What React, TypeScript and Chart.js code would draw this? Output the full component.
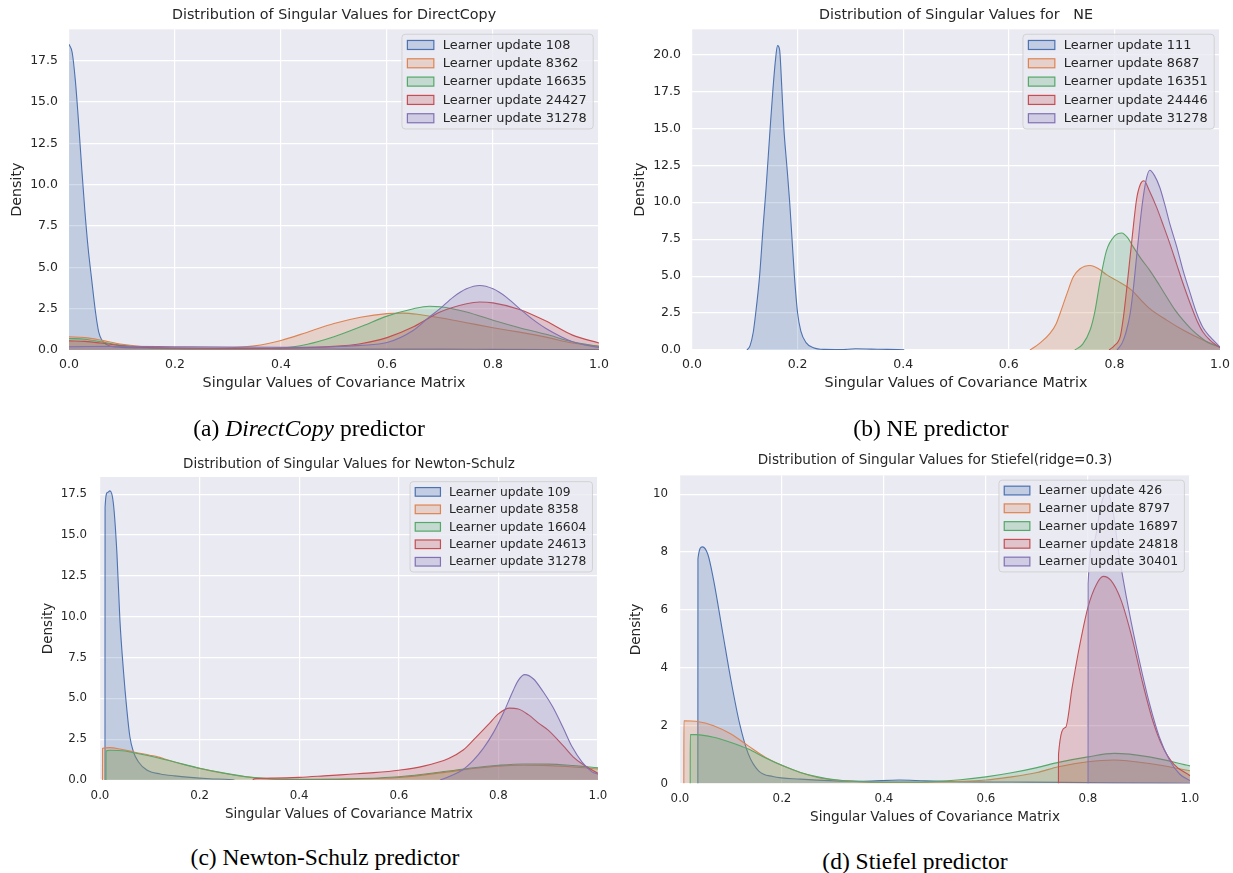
import React, { useEffect, useRef } from "react";
import { Chart, registerables } from "chart.js";

Chart.register(...registerables);

type Pt = [number, number];

const FONT = '"DejaVu Sans", "Noto Sans", sans-serif';
const TEXT = "#262626";
const PALETTE = ["#4C72B0", "#DD8452", "#55A868", "#C44E52", "#8172B3"];

// ---------- tick labels ----------
const xTicks = [0, 0.2, 0.4, 0.6, 0.8, 1.0];
const yTicksA = [0, 2.5, 5, 7.5, 10, 12.5, 15, 17.5];
const yTicksB = [0, 2.5, 5, 7.5, 10, 12.5, 15, 17.5, 20];
const yTicksC = [0, 2.5, 5, 7.5, 10, 12.5, 15, 17.5];
const yTicksD = [0, 2, 4, 6, 8, 10];

// ---------- legend entries (learner updates) ----------
const directCopyUpdates = [108, 8362, 16635, 24427, 31278];
const neUpdates = [111, 8687, 16351, 24446, 31278];
const newtonUpdates = [109, 8358, 16604, 24613, 31278];
const stiefelUpdates = [426, 8797, 16897, 24818, 30401];

// ---------- (a) DirectCopy densities [x, density] ----------
const dc108: Pt[] = [[0, 18.5], [0.006, 18.0], [0.012, 16.3], [0.018, 13.8], [0.024, 11.0], [0.03, 8.4], [0.036, 6.2], [0.043, 4.2], [0.05, 2.3], [0.056, 1.1], [0.062, 0.6], [0.07, 0.35], [0.08, 0.22], [0.1, 0.16], [0.15, 0.12], [0.2, 0.1], [0.3, 0.08], [0.4, 0.07], [0.5, 0.06], [0.6, 0.05], [0.7, 0.05], [0.8, 0.04], [0.9, 0.03], [1, 0.02]];
const dc8362: Pt[] = [[0, 0.8], [0.03, 0.75], [0.06, 0.6], [0.1, 0.35], [0.15, 0.18], [0.2, 0.12], [0.25, 0.1], [0.3, 0.13], [0.35, 0.25], [0.4, 0.58], [0.45, 1.08], [0.5, 1.6], [0.55, 1.98], [0.6, 2.2], [0.63, 2.23], [0.66, 2.15], [0.7, 1.95], [0.75, 1.65], [0.8, 1.35], [0.85, 1.08], [0.9, 0.78], [0.95, 0.42], [1, 0.22]];
const dc16635: Pt[] = [[0, 0.7], [0.03, 0.65], [0.06, 0.5], [0.1, 0.28], [0.15, 0.13], [0.2, 0.08], [0.3, 0.06], [0.4, 0.12], [0.45, 0.35], [0.5, 0.8], [0.55, 1.4], [0.6, 2.05], [0.65, 2.5], [0.68, 2.65], [0.7, 2.62], [0.75, 2.3], [0.8, 1.8], [0.85, 1.35], [0.9, 0.95], [0.95, 0.5], [1, 0.22]];
const dc24427: Pt[] = [[0, 0.55], [0.03, 0.52], [0.06, 0.42], [0.1, 0.25], [0.15, 0.15], [0.2, 0.12], [0.3, 0.1], [0.4, 0.12], [0.5, 0.22], [0.55, 0.38], [0.6, 0.75], [0.65, 1.4], [0.68, 1.95], [0.7, 2.3], [0.75, 2.8], [0.775, 2.9], [0.8, 2.85], [0.85, 2.45], [0.9, 1.75], [0.95, 0.9], [1, 0.42]];
const dc31278: Pt[] = [[0, 0.2], [0.1, 0.22], [0.2, 0.2], [0.3, 0.18], [0.4, 0.17], [0.5, 0.2], [0.55, 0.28], [0.6, 0.45], [0.65, 1.2], [0.68, 2.0], [0.7, 2.5], [0.725, 3.2], [0.75, 3.7], [0.775, 3.9], [0.8, 3.7], [0.825, 3.2], [0.85, 2.5], [0.875, 1.85], [0.9, 1.3], [0.95, 0.5], [1, 0.15]];

// ---------- (b) NE densities ----------
const ne111: Pt[] = [[0.104, 0], [0.11, 0.3], [0.116, 1.2], [0.12, 2.3], [0.128, 5], [0.135, 8.5], [0.14, 10.8], [0.148, 15], [0.153, 17.5], [0.158, 19.6], [0.162, 20.6], [0.166, 20.3], [0.17, 17.8], [0.174, 15], [0.18, 12.3], [0.185, 10], [0.19, 7.2], [0.194, 5], [0.2, 2.5], [0.206, 1.3], [0.216, 0.5], [0.23, 0.15], [0.25, 0.04], [0.28, 0.03], [0.31, 0.08], [0.34, 0.06], [0.37, 0.04], [0.402, 0.02]];
const ne8687: Pt[] = [[0.64, 0], [0.646, 0.13], [0.66, 0.5], [0.678, 1.12], [0.69, 1.8], [0.697, 2.47], [0.71, 3.8], [0.722, 4.94], [0.735, 5.5], [0.754, 5.72], [0.77, 5.5], [0.785, 5.1], [0.804, 4.71], [0.833, 4.04], [0.85, 3.4], [0.867, 2.8], [0.899, 2.02], [0.93, 1.35], [0.968, 0.67], [1, 0.22]];
const ne16351: Pt[] = [[0.725, 0], [0.74, 0.4], [0.754, 1.35], [0.763, 2.6], [0.773, 4.7], [0.785, 6.73], [0.8, 7.7], [0.814, 7.92], [0.825, 7.6], [0.836, 6.96], [0.85, 6.2], [0.867, 5.39], [0.885, 4.4], [0.899, 3.59], [0.915, 2.7], [0.93, 2.02], [0.946, 1.4], [0.962, 0.9], [0.98, 0.45], [1, 0.2]];
const ne24446: Pt[] = [[0.79, 0], [0.8, 0.3], [0.811, 0.9], [0.817, 2.2], [0.823, 4.04], [0.833, 7.4], [0.842, 10.2], [0.849, 11.2], [0.856, 11.45], [0.866, 10.8], [0.88, 9.65], [0.893, 8.4], [0.905, 7.2], [0.918, 5.8], [0.93, 4.5], [0.943, 3.2], [0.956, 2.02], [0.968, 1.2], [0.981, 0.67], [1, 0.15]];
const ne31278: Pt[] = [[0.805, 0], [0.815, 0.5], [0.822, 1.2], [0.83, 2.5], [0.836, 4.2], [0.842, 6.3], [0.852, 9.65], [0.86, 11.5], [0.867, 12.17], [0.876, 11.8], [0.886, 11.0], [0.895, 9.9], [0.905, 8.53], [0.918, 7.0], [0.93, 5.39], [0.943, 3.9], [0.956, 2.47], [0.968, 1.5], [0.981, 0.9], [1, 0.2]];

// ---------- (c) Newton-Schulz densities ----------
const ns109: Pt[] = [[0.01, 0], [0.0102, 16.7], [0.015, 17.6], [0.02, 17.7], [0.027, 16.9], [0.034, 13.86], [0.04, 9.78], [0.047, 6.72], [0.054, 4.28], [0.06, 2.65], [0.067, 1.73], [0.077, 1.12], [0.094, 0.61], [0.121, 0.37], [0.15, 0.25], [0.181, 0.16], [0.22, 0.08], [0.26, 0.03], [0.27, 0]];
const ns8358: Pt[] = [[0.005, 0], [0.0052, 1.94], [0.02, 1.98], [0.04, 1.9], [0.07, 1.7], [0.1, 1.52], [0.114, 1.43], [0.148, 1.12], [0.2, 0.71], [0.248, 0.41], [0.302, 0.16], [0.342, 0.06], [0.4, 0.03], [0.5, 0.05], [0.6, 0.15], [0.7, 0.5], [0.75, 0.7], [0.8, 0.85], [0.85, 0.9], [0.9, 0.88], [0.95, 0.8], [1, 0.68]];
const ns16604: Pt[] = [[0.012, 0], [0.0122, 1.77], [0.02, 1.82], [0.05, 1.78], [0.07, 1.65], [0.1, 1.47], [0.15, 1.1], [0.2, 0.72], [0.25, 0.42], [0.3, 0.18], [0.35, 0.07], [0.4, 0.04], [0.5, 0.07], [0.6, 0.2], [0.7, 0.55], [0.75, 0.75], [0.8, 0.9], [0.85, 0.98], [0.9, 0.97], [0.95, 0.88], [1, 0.75]];
const ns24613: Pt[] = [[0.307, 0], [0.31, 0.08], [0.35, 0.12], [0.4, 0.16], [0.45, 0.25], [0.5, 0.35], [0.55, 0.45], [0.6, 0.6], [0.65, 0.85], [0.7, 1.32], [0.73, 1.85], [0.75, 2.45], [0.78, 3.4], [0.8, 4.05], [0.822, 4.4], [0.84, 4.35], [0.86, 4.0], [0.88, 3.5], [0.9, 3.05], [0.93, 2.1], [0.95, 1.42], [0.97, 0.95], [1, 0.41]];
const ns31278: Pt[] = [[0.683, 0], [0.7, 0.2], [0.727, 0.6], [0.75, 1.22], [0.77, 1.95], [0.79, 2.9], [0.81, 4.1], [0.83, 5.5], [0.84, 6.1], [0.853, 6.45], [0.87, 6.2], [0.89, 5.4], [0.909, 4.48], [0.93, 3.2], [0.948, 2.03], [0.968, 1.1], [0.988, 0.5], [1, 0.35]];

// ---------- (d) Stiefel densities ----------
const st426: Pt[] = [[0.035, 0], [0.0352, 7.77], [0.044, 8.18], [0.055, 7.9], [0.066, 7.02], [0.083, 5.29], [0.1, 3.56], [0.117, 2.06], [0.134, 1.02], [0.154, 0.44], [0.182, 0.24], [0.236, 0.15], [0.305, 0.09], [0.36, 0.08], [0.43, 0.12], [0.48, 0.09], [0.55, 0.06], [0.65, 0.05], [0.75, 0.04], [0.85, 0.02], [1, 0.01]];
const st8797: Pt[] = [[0.0075, 0], [0.0077, 2.17], [0.031, 2.15], [0.066, 2.0], [0.1, 1.71], [0.134, 1.3], [0.168, 0.9], [0.202, 0.61], [0.236, 0.38], [0.27, 0.21], [0.305, 0.12], [0.35, 0.06], [0.4, 0.04], [0.5, 0.05], [0.6, 0.12], [0.646, 0.22], [0.7, 0.38], [0.742, 0.58], [0.8, 0.75], [0.851, 0.81], [0.92, 0.69], [1, 0.44]];
const st16897: Pt[] = [[0.02, 0], [0.0202, 1.69], [0.031, 1.69], [0.066, 1.6], [0.1, 1.42], [0.134, 1.19], [0.168, 0.88], [0.202, 0.61], [0.236, 0.38], [0.27, 0.23], [0.305, 0.13], [0.35, 0.07], [0.4, 0.05], [0.45, 0.05], [0.5, 0.07], [0.55, 0.13], [0.6, 0.23], [0.65, 0.37], [0.7, 0.55], [0.742, 0.73], [0.8, 0.92], [0.851, 1.04], [0.92, 0.92], [1, 0.61]];
const st24818: Pt[] = [[0.742, 0], [0.7422, 1.02], [0.756, 1.94], [0.769, 3.33], [0.783, 4.71], [0.8, 6.1], [0.817, 6.9], [0.83, 7.16], [0.845, 7.02], [0.865, 6.33], [0.886, 5.06], [0.906, 3.56], [0.927, 2.17], [0.947, 1.25], [0.968, 0.67], [1, 0.27]];
const st30401: Pt[] = [[0.8, 0], [0.8002, 6.9], [0.812, 8.4], [0.825, 9.6], [0.837, 10.1], [0.85, 9.3], [0.86, 8.0], [0.88, 6.0], [0.9, 4.3], [0.92, 2.8], [0.94, 1.6], [0.96, 0.8], [0.98, 0.32], [1, 0.1]];

// ---------- helpers ----------
function rgba(hex: string, a: number) {
  const n = parseInt(hex.slice(1), 16);
  return `rgba(${(n >> 16) & 255},${(n >> 8) & 255},${n & 255},${a})`;
}

const plotBg = {
  id: "plotBg",
  beforeDraw(chart: any) {
    const { ctx, chartArea: a } = chart;
    ctx.save();
    ctx.fillStyle = "#EAEAF2";
    ctx.fillRect(a.left, a.top, a.right - a.left, a.bottom - a.top);
    ctx.restore();
  },
};

const mplLegend = {
  id: "mplLegend",
  afterDraw(chart: any, _args: any, opts: any) {
    const { ctx, chartArea: a } = chart;
    const fs = opts.fontSize;
    ctx.save();
    ctx.font = `${fs}px ${FONT}`;
    const items = chart.data.datasets.map((d: any) => ({ label: d.label, stroke: d.borderColor, fill: d.backgroundColor }));
    const tw = Math.max(...items.map((it: any) => ctx.measureText(it.label).width));
    const padL = 0.42 * fs, handleW = 2.05 * fs, handleH = 0.7 * fs, gap = 0.7 * fs, padR = 0.5 * fs;
    const rowH = 1.42 * fs, padY = 0.12 * fs;
    const w = padL + handleW + gap + tw + padR;
    const h = rowH * items.length + 2 * padY;
    const x = a.right - 0.45 * fs - w;
    const y = a.top + 0.38 * fs;
    ctx.beginPath();
    ctx.roundRect(x, y, w, h, 0.25 * fs);
    ctx.fillStyle = "rgba(234,234,242,0.8)";
    ctx.fill();
    ctx.strokeStyle = "rgba(204,204,204,0.8)";
    ctx.lineWidth = 1;
    ctx.stroke();
    items.forEach((it: any, i: number) => {
      const cy = y + padY + rowH * (i + 0.5);
      const hx = x + padL;
      ctx.fillStyle = it.fill;
      ctx.fillRect(hx, cy - handleH / 2, handleW, handleH);
      ctx.strokeStyle = it.stroke;
      ctx.lineWidth = 1.2;
      ctx.strokeRect(hx, cy - handleH / 2, handleW, handleH);
      ctx.fillStyle = TEXT;
      ctx.textBaseline = "middle";
      ctx.textAlign = "left";
      ctx.fillText(it.label, hx + handleW + gap, cy + 0.5);
    });
    ctx.restore();
  },
};

interface Spec {
  left: number; top: number; w: number; h: number;
  title: string; titleSize: number; titlePadTop: number; titlePadBottom: number;
  yAxisW: number; padRight: number; xAxisH: number;
  tickSize: number; xTickPad: number; yTickPad: number;
  labelSize: number; xTitlePad: number; yTitlePad: number;
  yMax: number; yTicks: number[]; yDecimals: number;
  legendSize: number; updates: number[]; series: Pt[][];
}

const panels: Spec[] = [
  {
    left: 0, top: 0, w: 629, h: 400,
    title: "Distribution of Singular Values for DirectCopy", titleSize: 14.3, titlePadTop: 6.6, titlePadBottom: 5.6,
    yAxisW: 69, padRight: 30, xAxisH: 50,
    tickSize: 12.5, xTickPad: 7.5, yTickPad: 11,
    labelSize: 14.3, xTitlePad: 8.4, yTitlePad: 8.4,
    yMax: 19.4, yTicks: yTicksA, yDecimals: 1,
    legendSize: 12.9, updates: directCopyUpdates, series: [dc108, dc8362, dc16635, dc24427, dc31278],
  },
  {
    left: 620, top: 0, w: 630, h: 400,
    title: "Distribution of Singular Values for   NE", titleSize: 14.3, titlePadTop: 6.6, titlePadBottom: 5.6,
    yAxisW: 72, padRight: 30, xAxisH: 50,
    tickSize: 12.5, xTickPad: 7.5, yTickPad: 11,
    labelSize: 14.3, xTitlePad: 8.4, yTitlePad: 11.4,
    yMax: 21.7, yTicks: yTicksB, yDecimals: 1,
    legendSize: 12.9, updates: neUpdates, series: [ne111, ne8687, ne16351, ne24446, ne31278],
  },
  {
    left: 0, top: 440, w: 628, h: 395,
    title: "Distribution of Singular Values for Newton-Schulz", titleSize: 13.5, titlePadTop: 15.9, titlePadBottom: 4.9,
    yAxisW: 100, padRight: 30, xAxisH: 55,
    tickSize: 11.8, xTickPad: 8.9, yTickPad: 13,
    labelSize: 13.5, xTitlePad: 12.9, yTitlePad: 39.9,
    yMax: 18.55, yTicks: yTicksC, yDecimals: 1,
    legendSize: 12.3, updates: newtonUpdates, series: [ns109, ns8358, ns16604, ns24613, ns31278],
  },
  {
    left: 620, top: 440, w: 613, h: 395,
    title: "Distribution of Singular Values for Stiefel(ridge=0.3)", titleSize: 13.6, titlePadTop: 12.5, titlePadBottom: 6.6,
    yAxisW: 60, padRight: 43, xAxisH: 51.5,
    tickSize: 11.8, xTickPad: 8.7, yTickPad: 12,
    labelSize: 13.6, xTitlePad: 9.1, yTitlePad: 8.8,
    yMax: 10.65, yTicks: yTicksD, yDecimals: 0,
    legendSize: 12.5, updates: stiefelUpdates, series: [st426, st8797, st16897, st24818, st30401],
  },
];

const captions = [
  { cx: 309, cy: 428, content: <>(a) <i>DirectCopy</i> predictor</> },
  { cx: 931, cy: 428, content: <>(b) NE predictor</> },
  { cx: 325, cy: 857, content: <>(c) Newton-Schulz predictor</> },
  { cx: 915, cy: 861, content: <>(d) Stiefel predictor</> },
];

function buildConfig(s: Spec): any {
  const n = s.series.length;
  return {
    type: "line",
    data: {
      datasets: s.series.map((pts, i) => ({
        label: `Learner update ${s.updates[i]}`,
        data: pts.map(([x, y]) => ({ x, y })),
        borderColor: PALETTE[i],
        backgroundColor: rgba(PALETTE[i], 0.25),
        borderWidth: 1.1,
        pointRadius: 0,
        fill: "origin",
        cubicInterpolationMode: "monotone",
        order: n - 1 - i,
      })),
    },
    options: {
      animation: false,
      responsive: false,
      maintainAspectRatio: false,
      devicePixelRatio: 1,
      events: [],
      layout: { padding: { left: 0, right: s.padRight, top: 0, bottom: 0 } },
      plugins: {
        legend: { display: false },
        tooltip: { enabled: false },
        title: {
          display: true,
          fullSize: false,
          text: s.title,
          color: TEXT,
          font: { family: FONT, size: s.titleSize, weight: "normal", lineHeight: 1.2 },
          padding: { top: s.titlePadTop, bottom: s.titlePadBottom },
        },
        mplLegend: { fontSize: s.legendSize },
      },
      scales: {
        x: {
          type: "linear",
          min: 0,
          max: 1,
          afterFit: (sc: any) => { sc.height = s.xAxisH; },
          afterBuildTicks: (sc: any) => { sc.ticks = xTicks.map((v) => ({ value: v })); },
          grid: { color: "#FFFFFF", lineWidth: 1.2, drawTicks: false },
          border: { display: false },
          ticks: {
            color: TEXT,
            padding: s.xTickPad,
            maxRotation: 0,
            autoSkip: false,
            font: { family: FONT, size: s.tickSize },
            callback: (v: any) => Number(v).toFixed(1),
          },
          title: {
            display: true,
            text: "Singular Values of Covariance Matrix",
            color: TEXT,
            font: { family: FONT, size: s.labelSize, lineHeight: 1.2 },
            padding: { top: 0, bottom: s.xTitlePad },
          },
        },
        y: {
          type: "linear",
          min: 0,
          max: s.yMax,
          afterFit: (sc: any) => { sc.width = s.yAxisW; },
          afterBuildTicks: (sc: any) => { sc.ticks = s.yTicks.map((v) => ({ value: v })); },
          grid: { color: "#FFFFFF", lineWidth: 1.2, drawTicks: false },
          border: { display: false },
          ticks: {
            color: TEXT,
            padding: s.yTickPad,
            autoSkip: false,
            font: { family: FONT, size: s.tickSize },
            callback: (v: any) => Number(v).toFixed(s.yDecimals),
          },
          title: {
            display: true,
            text: "Density",
            color: TEXT,
            font: { family: FONT, size: s.labelSize, lineHeight: 1.2 },
            padding: { top: s.yTitlePad, bottom: 0 },
          },
        },
      },
    },
    plugins: [plotBg, mplLegend],
  };
}

function Panel({ spec }: { spec: Spec }) {
  const ref = useRef<HTMLCanvasElement>(null);
  useEffect(() => {
    const chart = new Chart(ref.current as HTMLCanvasElement, buildConfig(spec));
    return () => chart.destroy();
  }, [spec]);
  return (
    <canvas
      ref={ref}
      width={spec.w}
      height={spec.h}
      style={{ position: "absolute", left: spec.left, top: spec.top, width: spec.w, height: spec.h }}
    />
  );
}

export default function App() {
  return (
    <div style={{ position: "absolute", left: 0, top: 0, width: 1233, height: 873, background: "#fff", overflow: "hidden" }}>
      {panels.map((p, i) => (
        <Panel key={i} spec={p} />
      ))}
      {captions.map((c, i) => (
        <div
          key={"c" + i}
          style={{
            position: "absolute",
            left: c.cx - 250,
            top: c.cy - 14,
            width: 500,
            height: 28,
            lineHeight: "28px",
            textAlign: "center",
            fontFamily: '"Liberation Serif", "Times New Roman", serif',
            fontSize: 23.5,
            color: "#000",
            whiteSpace: "pre",
          }}
        >
          {c.content}
        </div>
      ))}
    </div>
  );
}
